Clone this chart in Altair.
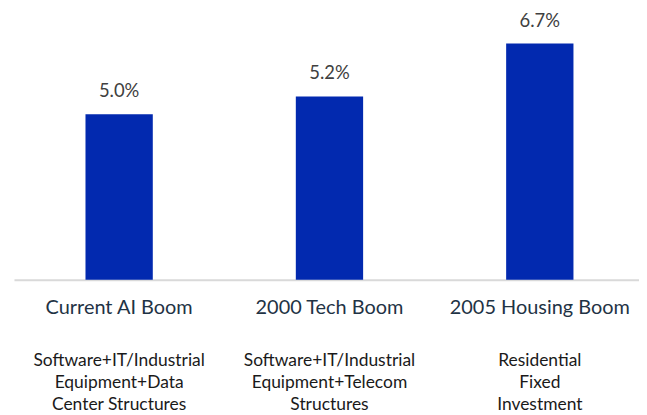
import altair as alt
import pandas as pd

categories = ["Current AI Boom", "2000 Tech Boom", "2005 Housing Boom"]
values = [4.69, 5.2, 6.7]
value_labels = ["5.0%", "5.2%", "6.7%"]
descriptions = [
    "Software+IT/Industrial\nEquipment+Data\nCenter Structures",
    "Software+IT/Industrial\nEquipment+Telecom\nStructures",
    "Residential\nFixed\nInvestment",
]

df = pd.DataFrame({
    "cat": categories,
    "val": values,
    "lab": value_labels,
    "desc": descriptions,
})

FONT = "Lato"
W, H = 631, 272

x = alt.X(
    "cat:N",
    sort=categories,
    scale=alt.Scale(range=[6, 640], paddingInner=0.68, paddingOuter=0.34),
    axis=alt.Axis(
        title=None, labelAngle=0, ticks=False, domainColor="#d9d9d9",
        domainWidth=2, labelFontSize=20, labelColor="#1f3345",
        labelFont=FONT, labelPadding=18, labelLimit=300,
    ),
)
y = alt.Y("val:Q", scale=alt.Scale(domain=[0, 7.68]), axis=None)

base = alt.Chart(df)
bars = base.mark_bar(color="#0229AF").encode(x=x, y=y)
vlabels = base.mark_text(
    baseline="alphabetic", dy=-17, fontSize=18.5, color="#404040", font=FONT
).encode(x=x, y=y, text="lab:N")
desc = base.mark_text(
    baseline="top", fontSize=17.5, lineHeight=22, color="#1a1a1a",
    font=FONT, lineBreak="\n",
).encode(x=x, y=alt.value(H + 73), text="desc:N")

chart = (
    alt.layer(bars, vlabels, desc)
    .properties(width=W, height=H, padding={"left": 0, "top": 0, "right": 0, "bottom": 0})
    .configure_view(stroke=None)
)
chart.save("out.html", embed_options={"renderer": "svg", "actions": False})
